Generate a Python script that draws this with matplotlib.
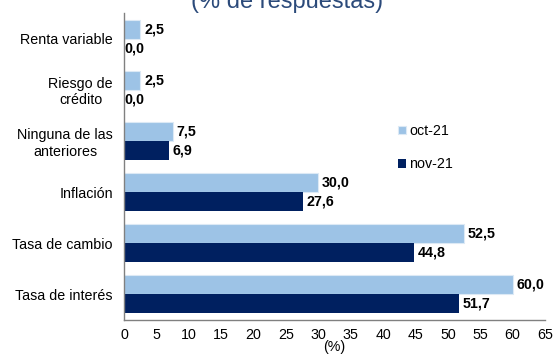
import numpy as np
import matplotlib.pyplot as plt

categorias = ["Renta variable", "Riesgo de\ncrédito", "Ninguna de las\nanteriores",
              "Inflación", "Tasa de cambio", "Tasa de interés"]
oct21 = [2.5, 2.5, 7.5, 30.0, 52.5, 60.0]
nov21 = [0.0, 0.0, 6.9, 27.6, 44.8, 51.7]
xticks = list(range(0, 70, 5))

plt.rcParams["font.family"] = ["Liberation Sans", "DejaVu Sans"]

fig = plt.figure(figsize=(5.55, 3.56), dpi=100)
ax = fig.add_axes([124 / 555, 36 / 356, 421 / 555, 307 / 356])

y = np.arange(len(categorias))
h = 0.37
fs = 10.3
b1 = ax.barh(y - h / 2, oct21, height=h, color="#9DC3E6", edgecolor="#DCE9F5",
             linewidth=0.8, label="oct-21")
b2 = ax.barh(y + h / 2, nov21, height=h, color="#002060", label="nov-21")

# etiquetas de valor con coma decimal
for bar, v in zip(b1, oct21):
    ax.text(v + 0.6, bar.get_y() + bar.get_height() / 2, f"{v:.1f}".replace(".", ","),
            va="center", ha="left", fontsize=fs, fontweight="bold")
for bar, v in zip(b2, nov21):
    ax.text(v + 0.6 if v > 0 else 0.1, bar.get_y() + bar.get_height() / 2,
            f"{v:.1f}".replace(".", ","), va="center", ha="left",
            fontsize=fs, fontweight="bold")

ax.set_ylim(len(categorias) - 0.5, -0.5)
ax.set_xlim(0, 65)
ax.set_xticks(xticks)
ax.set_yticks(y)
ax.set_yticklabels(categorias, multialignment="center")
ax.tick_params(axis="both", length=0, labelsize=fs)
ax.tick_params(axis="x", pad=6)
ax.tick_params(axis="y", pad=8)
for s in ["top", "right"]:
    ax.spines[s].set_visible(False)
for s in ["left", "bottom"]:
    ax.spines[s].set_color("#808080")
    ax.spines[s].set_linewidth(1.0)

ax.set_xlabel("(%)", fontsize=fs, labelpad=-1.5)

ax.legend(loc="upper left", bbox_to_anchor=(0.62, 0.68), frameon=False,
          fontsize=fs, handlelength=0.55, handleheight=0.55, handletextpad=0.25,
          labelspacing=1.35)

fig.text(287 / 555, 1.0 - 8 / 356, "(% de respuestas)", ha="center", va="baseline",
         fontsize=17, color="#2B4A7A")

fig.savefig("out.png", dpi=100)
